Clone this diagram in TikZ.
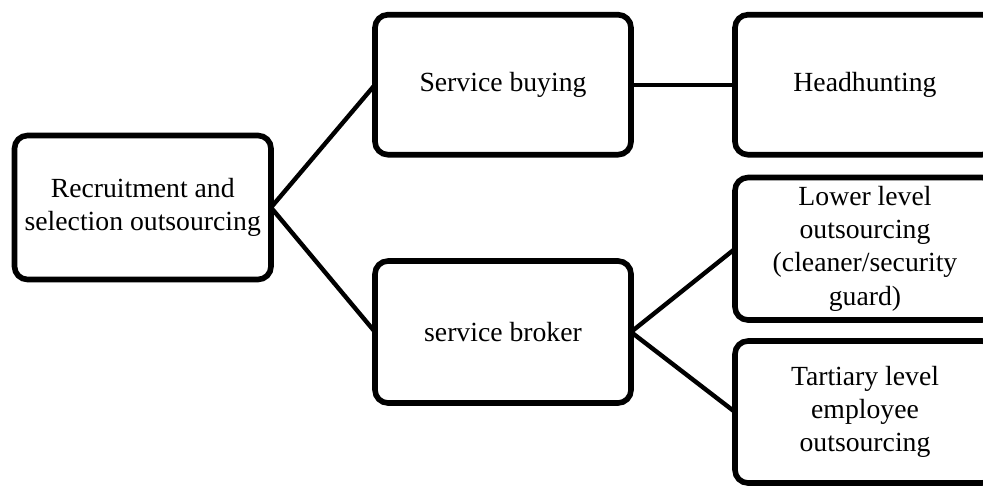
\documentclass[tikz,border=0pt]{standalone}
\usepackage{fontspec}
\setmainfont{Liberation Serif}
\begin{document}
\begin{tikzpicture}[x=0.5pt,y=-0.5pt,
  box/.style={draw=black, line width=2.8pt, rounded corners=6.5pt, fill=white,
    align=center, inner sep=0pt, outer sep=0pt,
    font=\fontsize{13.85pt}{16.6pt}\selectfont},
  link/.style={draw=black, line width=2.2pt}]
\useasboundingbox (0,0) rectangle (983,487);
\clip (0,0) rectangle (983,487);
\node[box, minimum width=128.25pt, minimum height=72pt] (root) at (142.75,207.5) {Recruitment and\\selection outsourcing};
\node[box, minimum width=128pt, minimum height=70pt] (buy) at (503,84.7) {Service buying};
\node[box, minimum width=128pt, minimum height=71pt] (broker) at (503,332) {service broker};
\node[box, minimum width=130pt, minimum height=70pt] (head) at (865,84.7) {Headhunting};
\node[box, minimum width=130pt, minimum height=71.25pt] (lower) at (865,248.75) {Lower level\\outsourcing\\(cleaner/security\\guard)};
\node[box, minimum width=130pt, minimum height=71pt] (tert) at (865,412) {Tartiary level\\employee\\outsourcing};
\draw[link] (root.east) -- (buy.west);
\draw[link] (root.east) -- (broker.west);
\draw[link] (buy.east) -- (head.west);
\draw[link] (broker.east) -- (lower.west);
\draw[link] (broker.east) -- (tert.west);
\end{tikzpicture}
\end{document}
